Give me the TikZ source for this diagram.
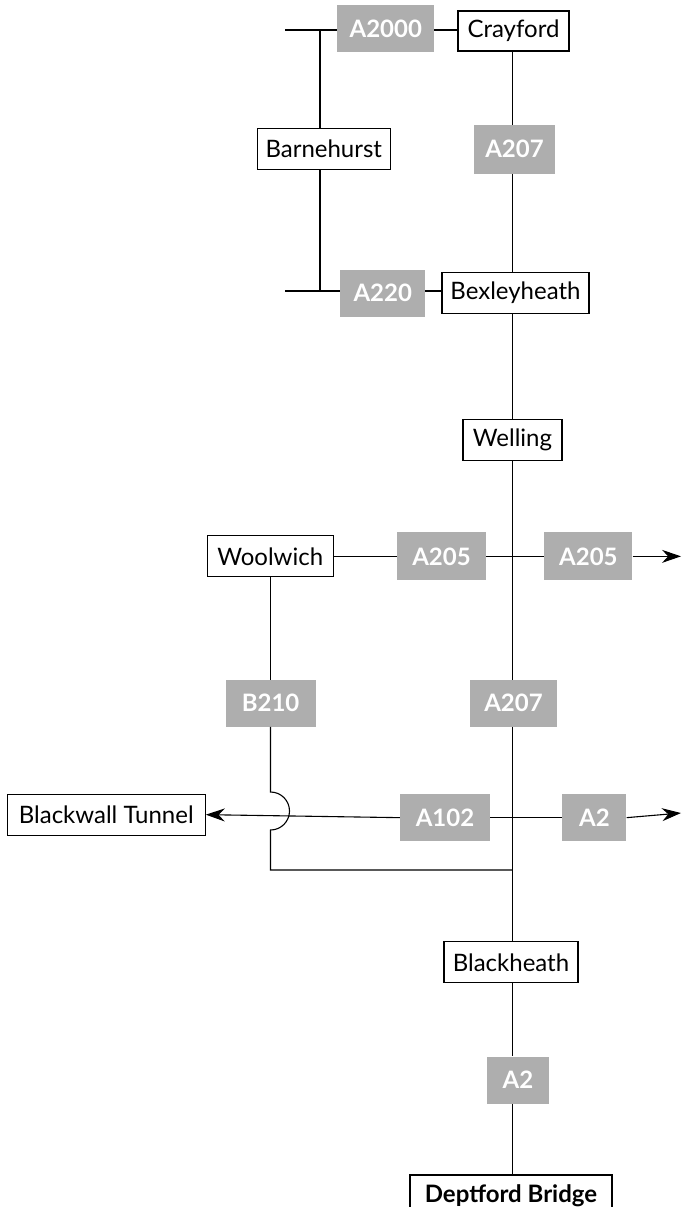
\documentclass[tikz,border=0pt]{standalone}
\usepackage{fontspec}
\setmainfont{Lato}
\usetikzlibrary{arrows.meta,positioning}
\definecolor{roadgrey}{HTML}{AEAEAE}
\tikzset{%
    >={Stealth[length=19pt,width=13pt]},
    town/.style={draw,fill=white,line width=1.1pt,inner sep=0pt,minimum height=41pt,font=\fontsize{24}{24}\selectfont},
    road/.style={fill=roadgrey,text=white,inner sep=0pt,minimum height=47pt,font=\fontsize{24}{24}\selectfont\bfseries},
    link/.style={line width=1.1pt}
}
\begin{document}
\begin{tikzpicture}[x=1pt,y=-1pt]
            \useasboundingbox (0,0) rectangle (681,1207);
            \node [town,minimum width=111pt,minimum height=40pt] (crayford) at (513.5,31) {Crayford};
            \node [road,below=73pt of crayford,xshift=1pt,minimum width=81pt,minimum height=49pt] (a207-1) {A207};
            \node [town,below=98pt of a207-1,xshift=1pt,minimum width=147pt] (bexleyheath) {Bexleyheath};
            \node [town,below=105pt of bexleyheath,xshift=-3pt,minimum width=99pt] (welling) {Welling};
            \node [road,left=23pt of crayford,yshift=2pt,minimum width=97pt] (a2000) {A2000};
            \node [road,left=16pt of bexleyheath,minimum width=85pt] (a220) {A220};
            \node [town,below=75pt of a2000,xshift=-62pt,minimum width=133pt] (barnehurst) {Barnehurst};
            \node [road,below=71pt of welling,xshift=-71pt,minimum width=89pt,minimum height=48pt] (a205-1) {A205};
            \node [road,right=58pt of a205-1,minimum width=88pt,minimum height=48pt] (a205-2) {A205};
            \node [town,left=63pt of a205-1,minimum width=126pt] (woolwich) {Woolwich};
            \node [road,below=99pt of a205-1,xshift=72pt,minimum width=87pt] (a207-2) {A207};
            \node [road,left=154pt of a207-2,minimum width=90pt] (b210) {B210};
            \node [road,below=67pt of a207-2,xshift=-68.5pt,minimum width=90pt] (a102) {A102};
            \node [road,right=72pt of a102,minimum width=64pt] (a2-1) {A2};
            \node [town,left=194pt of a102,yshift=3pt,minimum width=198pt] (blackwall) {Blackwall Tunnel};
            \node [town,below=100pt of a102,xshift=66pt,minimum width=134pt] (blackheath) {Blackheath};
            \node [road,below=73pt of blackheath,xshift=7pt,minimum width=62pt] (a2-2) {A2};
            \node [town,below=70pt of a2-2,xshift=-7pt,minimum width=202pt,line width=2pt,font=\fontsize{24}{24}\selectfont\bfseries] (deptford) {Deptford Bridge};
            \coordinate (spine) at (512.5,0);
            \coordinate (a2000end) at (285,30);
            \coordinate (a220end) at (285,291);
            \coordinate (barnelink) at (320,0);
            \coordinate (tunnelend) at (681,553);
            \coordinate (a2end) at (681,813);
            \coordinate (humptop) at (270.5,792);
            \coordinate (humpbot) at (270.5,830);
            \coordinate (b210foot) at (270.5,870);
            %%%%%
            \draw[link] (a2000end) -- (a2000end -| a2000.west);
            \draw[link] (a2000end -| a2000.east) -- (a2000end -| crayford.west);
            \draw[link] (a220end) -- (a220end -| a220.west);
            \draw[link] (a220end -| a220.east) -- (a220end -| bexleyheath.west);
            \draw[link] (a2000end -| barnelink) -- (barnehurst.north -| barnelink);
            \draw[link] (barnehurst.south -| barnelink) -- (a220end -| barnelink);
            \draw[link] (crayford.south -| spine) -- (a207-1.north -| spine);
            \draw[link] (a207-1.south -| spine) -- (bexleyheath.north -| spine);
            \draw[link] (bexleyheath.south -| spine) -- (welling.north -| spine);
            \draw[link] (welling.south -| spine) -- (a207-2.north -| spine);
            \draw[link] (a207-2.south -| spine) -- (blackheath.north -| spine);
            \draw[link] (blackheath.south -| a2-2.north -| spine) -- (a2-2.north -| spine);
            \draw[link] (a2-2.south -| spine) -- (deptford.north -| spine);
            \draw[link] (woolwich) -- (a205-1);
            \draw[link] (a205-1) -- (a205-2);
            \draw[link,->] (a205-2.east) -- (a205-2.east -| tunnelend);
            \draw[link] (woolwich.south -| humptop) -- (b210.north -| humptop);
            \draw[link] (b210.south -| humptop) -- (humptop) arc[start angle=90,end angle=-90,radius=19pt] -- (b210foot) -- (b210foot -| spine);
            \draw[link,->] (a102.west) -- (blackwall.east);
            \draw[link] (a102) -- (a2-1);
            \draw[link,->] (a2-1.east) -- (a2end);
\end{tikzpicture}
\end{document}
